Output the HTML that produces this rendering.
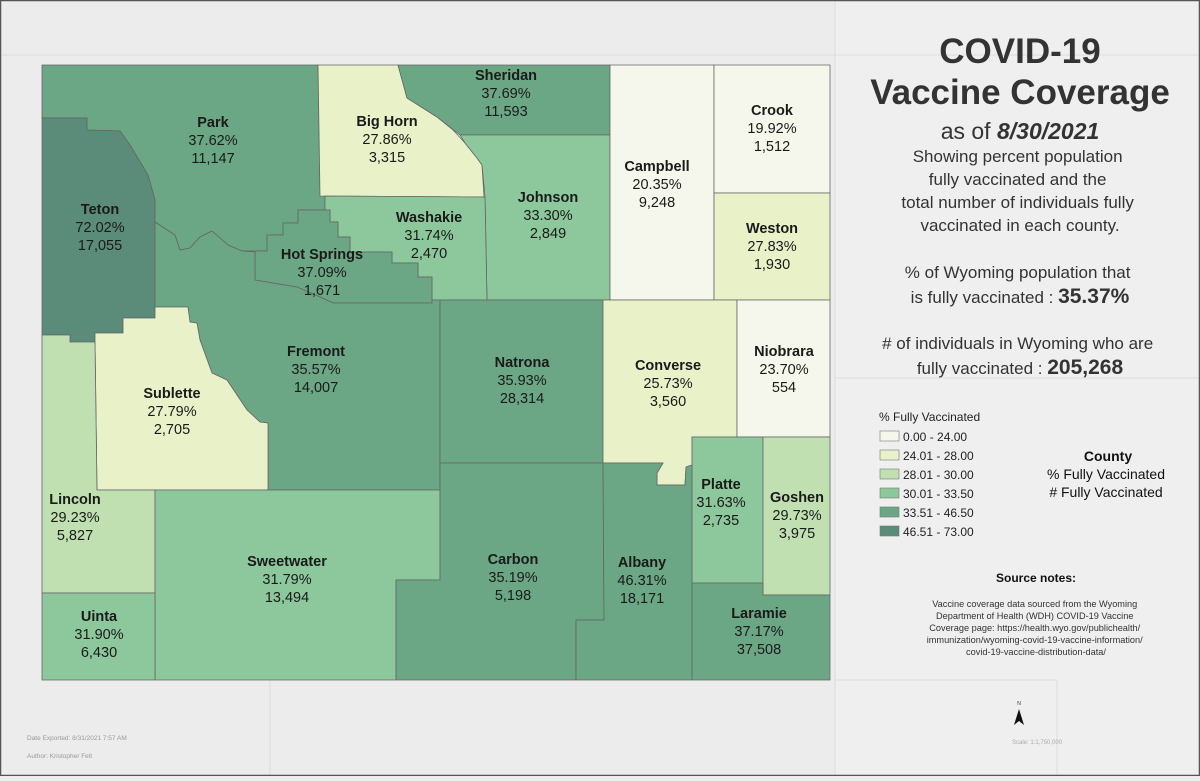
<!DOCTYPE html>
<html><head><meta charset="utf-8">
<style>
html,body{margin:0;padding:0;}
body{width:1200px;height:776px;overflow:hidden;background:#ededed;font-family:"Liberation Sans",sans-serif;}
svg text{font-family:"Liberation Sans",sans-serif;}
</style></head>
<body>
<svg id="map" width="1200" height="776" viewBox="0 0 1200 776" xmlns="http://www.w3.org/2000/svg">
  <rect x="0" y="0" width="1200" height="776" fill="#ececec"/>
  <rect x="835" y="0" width="365" height="776" fill="#efefef"/>
  <g stroke="#dcdcdc" stroke-width="1" fill="none">
    <line x1="0" y1="55" x2="1200" y2="55"/>
    <line x1="835" y1="0" x2="835" y2="776"/>
    <line x1="270" y1="680" x2="270" y2="776"/>
    <line x1="1057" y1="680" x2="1057" y2="776"/>
    <line x1="835" y1="680" x2="1057" y2="680"/>
    <line x1="835" y1="378" x2="1200" y2="378"/>
  </g>
  <rect x="0.5" y="0.5" width="1199" height="775" fill="none" stroke="#555" stroke-width="1.5"/>
  <g id="counties"></g>
  <g id="labels"></g>

  <g text-anchor="middle" fill="#333">
    <text x="1020" y="63" font-size="35" font-weight="bold">COVID-19</text>
    <text x="1020" y="104" font-size="35" font-weight="bold">Vaccine Coverage</text>
    <text x="1020" y="139" font-size="23">as of <tspan font-weight="bold" font-style="italic">8/30/2021</tspan></text>
    <text font-size="17">
      <tspan x="1020" y="162">Showing percent population</tspan>
      <tspan x="1020" y="185">fully vaccinated and the</tspan>
      <tspan x="1020" y="208">total number of individuals fully</tspan>
      <tspan x="1020" y="231">vaccinated in each county.</tspan>
    </text>
    <text font-size="17">
      <tspan x="1020" y="278">% of Wyoming population that</tspan>
      <tspan x="1020" y="303">is fully vaccinated : <tspan font-weight="bold" font-size="21">35.37%</tspan></tspan>
    </text>
    <text font-size="17">
      <tspan x="1020" y="349"># of individuals in Wyoming who are</tspan>
      <tspan x="1020" y="374">fully vaccinated : <tspan font-weight="bold" font-size="21">205,268</tspan></tspan>
    </text>
  </g>

  <g id="legend">
    <text x="879" y="421" font-size="12" fill="#222">% Fully Vaccinated</text>
  </g>

  <g text-anchor="middle" fill="#111">
    <text x="1108" y="461" font-size="14" font-weight="bold">County</text>
    <text x="1106" y="479" font-size="14">% Fully Vaccinated</text>
    <text x="1106" y="497" font-size="14"># Fully Vaccinated</text>
  </g>

  <g text-anchor="middle" fill="#333">
    <text x="1036" y="582" font-size="12" font-weight="bold" fill="#111">Source notes:</text>
    <text font-size="9.2">
      <tspan x="1036" y="607">Vaccine coverage data sourced from the Wyoming</tspan>
      <tspan x="1036" y="619">Department of Health (WDH) COVID-19 Vaccine</tspan>
      <tspan x="1036" y="631">Coverage page: https://health.wyo.gov/publichealth/</tspan>
      <tspan x="1036" y="643">immunization/wyoming-covid-19-vaccine-information/</tspan>
      <tspan x="1036" y="655">covid-19-vaccine-distribution-data/</tspan>
    </text>
  </g>

  <g>
    <text x="1019" y="705" font-size="5" text-anchor="middle" fill="#333">N</text>
    <polygon points="1019,709 1024,725 1019,721 1014,725" fill="#111"/>
  </g>
  <text x="1012" y="744" font-size="6" fill="#aaa">Scale: 1:1,750,000</text>
  <text x="27" y="740" font-size="6.5" fill="#999">Date Exported: 8/31/2021 7:57 AM</text>
  <text x="27" y="758" font-size="6.5" fill="#999">Author: Kristopher Felt</text>
</svg>

<script>
// ---- data ----
const countyNames = ["Park","Big Horn","Sheridan","Teton","Johnson","Campbell","Crook","Weston","Washakie","Hot Springs","Fremont","Natrona","Converse","Niobrara","Sublette","Lincoln","Platte","Goshen","Sweetwater","Carbon","Albany","Uinta","Laramie"];
const pctVaccinated = [37.62,27.86,37.69,72.02,33.30,20.35,19.92,27.83,31.74,37.09,35.57,35.93,25.73,23.70,27.79,29.23,31.63,29.73,31.79,35.19,46.31,31.90,37.17];
const countVaccinated = ["11,147","3,315","11,593","17,055","2,849","9,248","1,512","1,930","2,470","1,671","14,007","28,314","3,560","554","2,705","5,827","2,735","3,975","13,494","5,198","18,171","6,430","37,508"];
const classBreaks = [24.00,28.00,30.00,33.50,46.50,73.00];
const classLabels = ["0.00 - 24.00","24.01 - 28.00","28.01 - 30.00","30.01 - 33.50","33.51 - 46.50","46.51 - 73.00"];

// ---- layout / geometry (not data) ----
const classColors = ["#f6f7ec","#e9f1c9","#c0e0b2","#8dc79c","#6ba785","#5b8b79"];
const shapes = {
 "Park":"42,65 318,65 320,195 325,195 325,210 298,210 298,223 283,223 283,235 267,235 267,251 242,251 228,245 212,231 200,237 190,248 180,250 175,235 155,222 155,200 148,175 130,145 120,131 87,130 87,118 42,118",
 "Big Horn":"318,65 398,65 407,98 437,117 453,130 465,143 477,158 482,165 484,197 320,196",
 "Sheridan":"398,65 610,65 610,135 460,135 437,117 407,98",
 "Teton":"42,118 87,118 87,130 120,131 130,145 148,175 155,200 155,318 123,318 123,333 95,333 95,342 70,342 70,335 42,335",
 "Johnson":"460,135 610,135 610,300 487,300 485,197 482,165 477,158 465,143",
 "Campbell":"610,65 714,65 714,300 610,300",
 "Crook":"714,65 830,65 830,193 714,193",
 "Weston":"714,193 830,193 830,300 714,300",
 "Washakie":"325,196 485,197 487,300 432,300 432,277 418,277 418,263 392,263 392,252 350,252 350,237 338,237 338,222 330,222 330,210 325,210",
 "Hot Springs":"298,210 330,210 330,222 338,222 338,237 350,237 350,252 392,252 392,263 418,263 418,277 432,277 432,303 333,303 320,297 297,287 255,280 255,252 242,251 267,251 267,235 283,235 283,223 298,223",
 "Fremont":"155,222 175,235 180,250 190,248 200,237 212,231 228,245 242,251 255,252 255,280 297,287 320,297 333,303 432,303 432,300 440,300 440,490 268,490 268,423 260,422 247,410 227,380 212,373 200,340 197,323 190,322 188,307 155,307",
 "Natrona":"440,300 603,300 603,463 440,463",
 "Converse":"603,300 737,300 737,437 692,437 692,465 686,467 685,485 657,485 657,473 663,463 603,463",
 "Niobrara":"737,300 830,300 830,437 737,437",
 "Sublette":"95,342 95,333 123,333 123,318 155,318 155,307 188,307 190,322 197,323 200,340 212,373 227,380 247,410 260,422 268,423 268,490 97,490",
 "Lincoln":"42,335 70,335 70,342 95,342 97,490 155,490 155,593 42,593",
 "Platte":"692,437 763,437 763,583 692,583",
 "Goshen":"763,437 830,437 830,595 763,595",
 "Sweetwater":"155,490 440,490 440,580 396,580 396,680 155,680",
 "Carbon":"440,463 603,463 604,620 576,620 576,680 396,680 396,580 440,580",
 "Albany":"603,463 663,463 657,473 657,485 685,485 686,467 692,465 692,680 576,680 576,620 604,620",
 "Uinta":"42,593 155,593 155,680 42,680",
 "Laramie":"692,583 763,583 763,595 830,595 830,680 692,680"
};
const labelX = [213,387,506,100,548,657,772,772,429,322,316,522,668,784,172,75,721,797,287,513,642,99,759];
const labelY = [122,121,75,209,197,166,110,228,217,254,351,362,365,351,393,499,484,497,561,559,562,616,613];

const NS = "http://www.w3.org/2000/svg";
function colorFor(p){ for(let i=0;i<classBreaks.length;i++){ if(p<=classBreaks[i]) return classColors[i]; } return classColors[classColors.length-1]; }
function slug(s){ return s.toLowerCase().replace(/\s+/g,'-'); }

const gC = document.getElementById('counties');
const gL = document.getElementById('labels');
countyNames.forEach((name,i)=>{
  const poly = document.createElementNS(NS,'polygon');
  poly.setAttribute('points', shapes[name]);
  poly.setAttribute('fill', colorFor(pctVaccinated[i]));
  poly.setAttribute('stroke', '#666');
  poly.setAttribute('stroke-width', '0.8');
  
  
  gC.appendChild(poly);

  const t = document.createElementNS(NS,'text');
  t.setAttribute('text-anchor','middle');
  t.setAttribute('fill','#1a1a1a');
  t.setAttribute('font-size','14.5');
  
  
  const lines = [[name,'bold'],[pctVaccinated[i].toFixed(2)+'%','normal'],[countVaccinated[i],'normal']];
  lines.forEach((ln,k)=>{
    const ts = document.createElementNS(NS,'tspan');
    ts.setAttribute('x', labelX[i]);
    ts.setAttribute('y', labelY[i] + 5 + k*18);
    ts.setAttribute('font-weight', ln[1]);
    ts.textContent = ln[0];
    t.appendChild(ts);
  });
  gL.appendChild(t);
});

const gLeg = document.getElementById('legend');
classLabels.forEach((lab,i)=>{
  const r = document.createElementNS(NS,'rect');
  r.setAttribute('x', 880); r.setAttribute('y', 431 + i*19);
  r.setAttribute('width', 19); r.setAttribute('height', 10);
  r.setAttribute('fill', classColors[i]); r.setAttribute('stroke', '#777'); r.setAttribute('stroke-width','0.6');
  
  
  gLeg.appendChild(r);
  const t = document.createElementNS(NS,'text');
  t.setAttribute('x', 903); t.setAttribute('y', 441 + i*19);
  t.setAttribute('font-size','12'); t.setAttribute('fill','#222');
  t.textContent = lab;
  
  
  gLeg.appendChild(t);
});
</script>
</body></html>
